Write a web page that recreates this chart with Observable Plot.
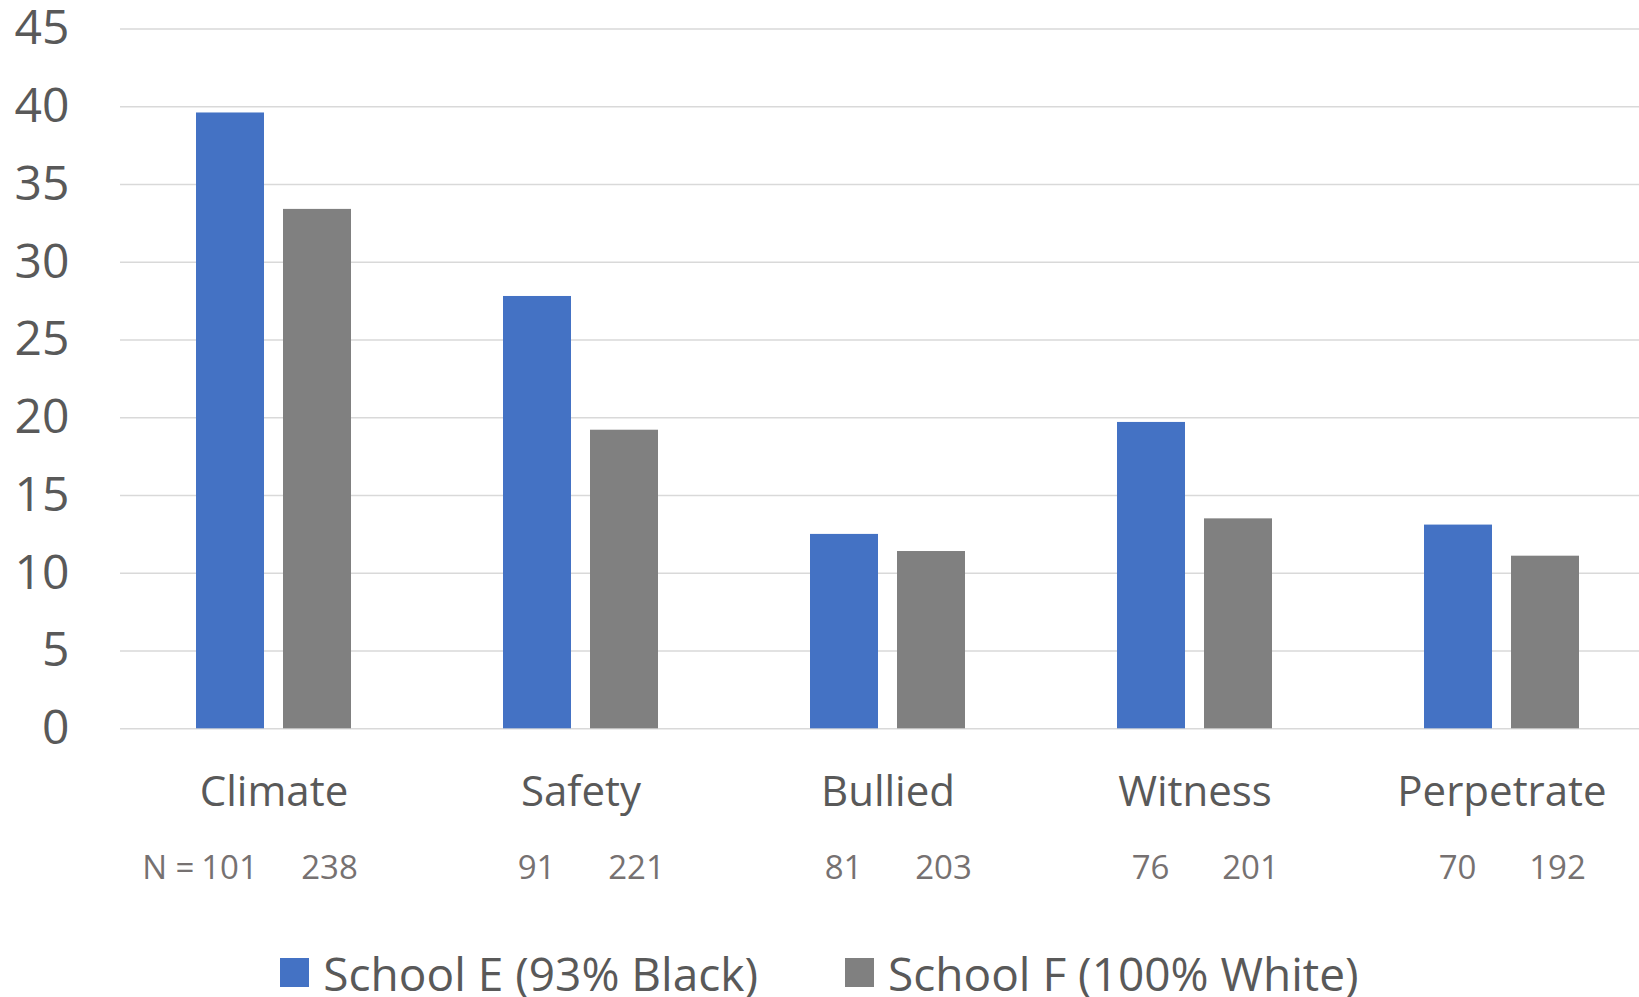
<!DOCTYPE html>
<html>
<head>
<meta charset="utf-8">
<script src="https://cdn.jsdelivr.net/npm/d3@7"></script>
<script src="https://cdn.jsdelivr.net/npm/@observablehq/plot@0.6"></script>
<style>
  html, body { margin: 0; padding: 0; background: #fff; overflow: hidden; }
  body { font-family: "Open Sans", sans-serif; width: 1639px; height: 997px; }
  #chart svg { display: block; }
  .legend { display: flex; justify-content: center; align-items: center; height: 57px; gap: 87px; color: #595959; font-size: 46px; }
  .legend .item { display: flex; align-items: center; gap: 14px; line-height: 1; transform: translateY(4px); }
  .legend .swatch { width: 29px; height: 29px; display: inline-block; }
</style>
</head>
<body>
<div id="chart"></div>
<script>
// Survey measures (percent) for two schools, with respondent counts
const categories = ["Climate", "Safety", "Bullied", "Witness", "Perpetrate"];
const schools = ["School E (93% Black)", "School F (100% White)"];
const schoolE = [39.6, 27.8, 12.5, 19.7, 13.1];
const schoolF = [33.4, 19.2, 11.4, 13.5, 11.1];
const nE = [101, 91, 81, 76, 70];
const nF = [238, 221, 203, 201, 192];
const yTicks = [0, 5, 10, 15, 20, 25, 30, 35, 40, 45];
const colors = ["#4472C4", "#808080"];

const rows = categories.flatMap((c, i) => [
  {category: c, school: schools[0], value: schoolE[i], n: nE[i]},
  {category: c, school: schools[1], value: schoolF[i], n: nF[i]}
]);
const rowsE = rows.filter(d => d.school === schools[0]);
const rowsF = rows.filter(d => d.school === schools[1]);

const textColor = "#595959";
const countColor = "#767171";

const chart = Plot.plot({
  width: 1639,
  height: 940,
  marginLeft: 119,
  marginRight: -16.5,
  marginTop: 28.5,
  marginBottom: 211.7,
  style: {fontFamily: "'Open Sans', sans-serif", background: "#fff"},
  fx: {domain: categories, padding: 0, axis: null},
  x: {domain: schools, paddingInner: 0.2132, paddingOuter: 0.8586, axis: null},
  y: {domain: [0, 45], axis: null},
  color: {domain: schools, range: colors},
  marks: [
    Plot.gridY(yTicks, {stroke: "#D9D9D9", strokeOpacity: 1, strokeWidth: 1.6}),
    Plot.barY(rows, {fx: "category", x: "school", y: "value", fill: "school"}),
    Plot.axisY(yTicks, {
      tickSize: 0, tickPadding: 51, fontSize: 48, fill: textColor,
      label: null, tickFormat: d => String(d)
    }),
    // category names under each group
    Plot.text(categories, {
      fx: d => d, text: d => d, frameAnchor: "bottom", dy: 77,
      fontSize: 42, fill: textColor
    }),
    // respondent counts
    Plot.text(rowsE.slice(0, 1), {
      fx: "category", x: "school", text: () => "N =", frameAnchor: "bottom",
      textAnchor: "end", dx: -36, dy: 150.5, fontSize: 33, fill: countColor
    }),
    Plot.text(rowsE, {
      fx: "category", x: "school", text: d => String(d.n), frameAnchor: "bottom",
      dx: -1, dy: 150.5, fontSize: 33, fill: countColor
    }),
    Plot.text(rowsF, {
      fx: "category", x: "school", text: d => String(d.n), frameAnchor: "bottom",
      dx: 12, dy: 150.5, fontSize: 33, fill: countColor
    })
  ]
});
document.getElementById("chart").appendChild(chart);

// legend below the chart
const legend = document.createElement("div");
legend.className = "legend";
schools.forEach((s, i) => {
  const item = document.createElement("div");
  item.className = "item";
  const sw = document.createElement("span");
  sw.className = "swatch";
  sw.style.background = colors[i];
  const label = document.createElement("span");
  label.textContent = s;
  item.appendChild(sw);
  item.appendChild(label);
  legend.appendChild(item);
});
document.body.appendChild(legend);
</script>
</body>
</html>
